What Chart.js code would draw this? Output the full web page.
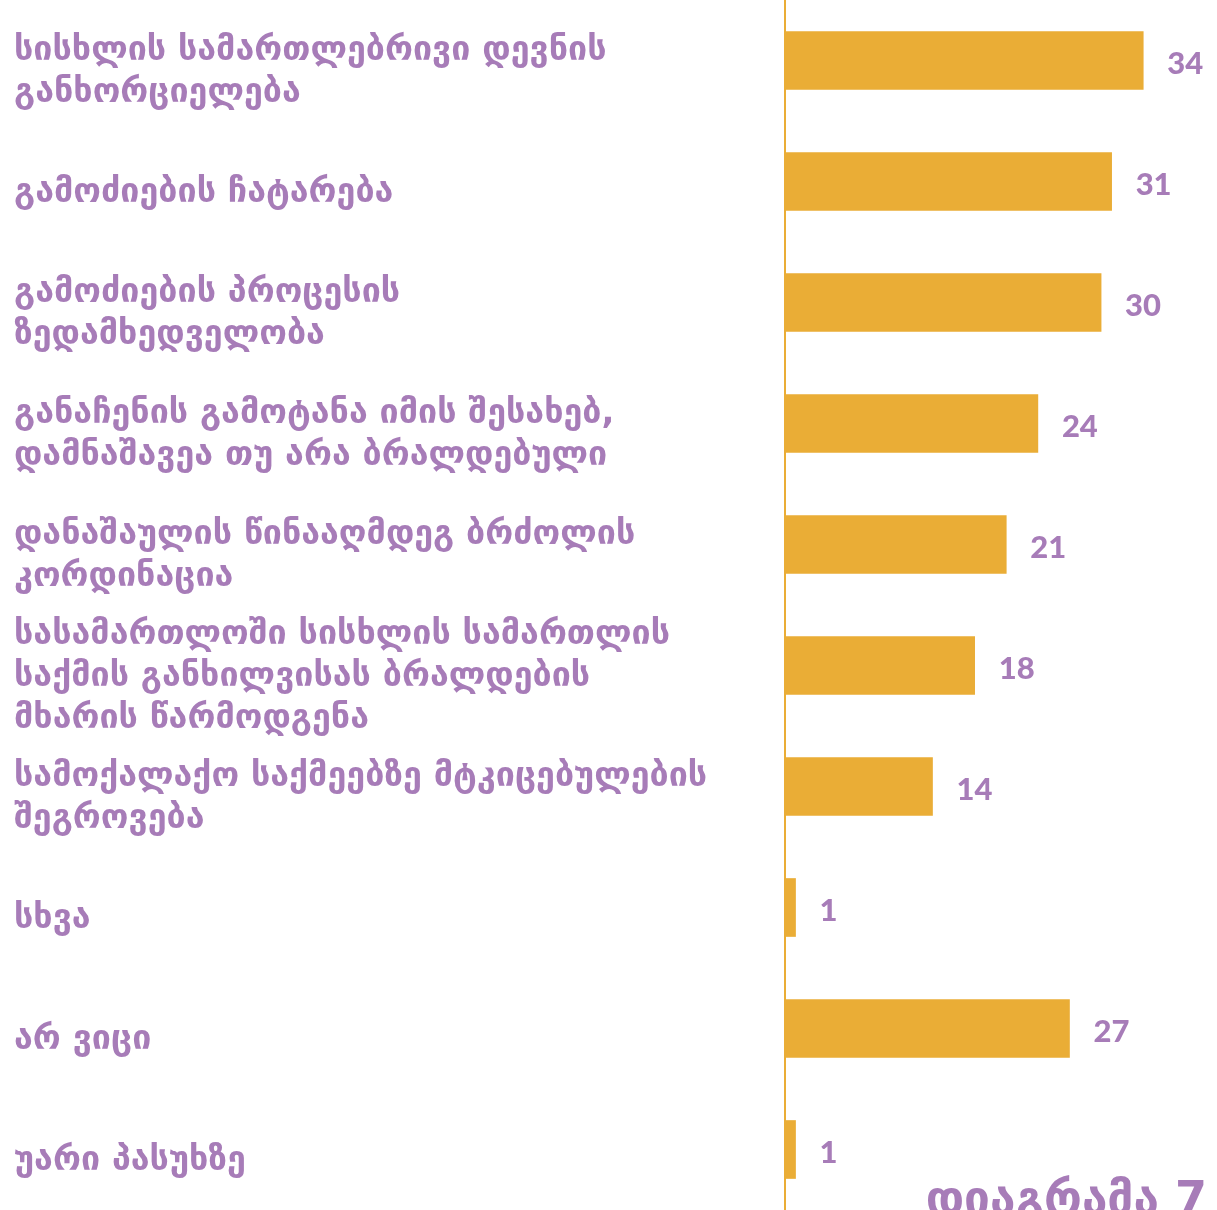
<!DOCTYPE html>
<html lang="ka">
<head>
<meta charset="utf-8">
<title>დიაგრამა 7</title>
<script src="https://cdn.jsdelivr.net/npm/chart.js@4/dist/chart.umd.min.js"></script>
<style>
  html, body { margin: 0; padding: 0; background: #fff; }
  #wrap { width: 1217px; height: 1210px; position: relative; }
</style>
</head>
<body>
<div id="wrap"><canvas id="chart"></canvas></div>
<script>
/* Horizontal bar chart, diagram 7 */

const categories = [
  ["სისხლის სამართლებრივი დევნის", "განხორციელება"],
  "გამოძიების ჩატარება",
  ["გამოძიების პროცესის", "ზედამხედველობა"],
  ["განაჩენის გამოტანა იმის შესახებ,", "დამნაშავეა თუ არა ბრალდებული"],
  ["დანაშაულის წინააღმდეგ ბრძოლის", "კორდინაცია"],
  ["სასამართლოში სისხლის სამართლის", "საქმის განხილვისას ბრალდების", "მხარის წარმოდგენა"],
  ["სამოქალაქო საქმეებზე მტკიცებულების", "შეგროვება"],
  "სხვა",
  "არ ვიცი",
  "უარი პასუხზე",
];
const values = [34, 31, 30, 24, 21, 18, 14, 1, 27, 1];
const chartTitle = "დიაგრამა 7";

const PURPLE = "#a77cb8";
const GOLD = "#eaad36";
const LABEL_FONT = "'DejaVu Sans', 'Noto Sans', sans-serif";
const NUM_FONT = "Lato, 'Open Sans', sans-serif";

const valueLabels = {
  id: "valueLabels",
  afterDatasetsDraw(chart) {
    const ctx = chart.ctx;
    const meta = chart.getDatasetMeta(0);
    ctx.save();
    ctx.fillStyle = PURPLE;
    ctx.font = `900 31px ${NUM_FONT}`;
    ctx.textAlign = "left";
    ctx.textBaseline = "middle";
    meta.data.forEach((bar, i) => {
      ctx.fillText(String(values[i]), bar.x + 24, bar.y + 3);
    });
    ctx.restore();
  },
};

const cornerTitle = {
  id: "cornerTitle",
  afterDraw(chart) {
    const ctx = chart.ctx;
    ctx.save();
    ctx.fillStyle = PURPLE;
    ctx.font = `bold 46px ${LABEL_FONT}`;
    ctx.textAlign = "right";
    ctx.textBaseline = "alphabetic";
    ctx.fillText(chartTitle, 1207, 1214);
    ctx.restore();
  },
};

new Chart(document.getElementById("chart"), {
  type: "bar",
  data: {
    labels: categories,
    datasets: [
      {
        data: values,
        backgroundColor: GOLD,
        borderWidth: 0,
        barThickness: 58,
      },
    ],
  },
  options: {
    indexAxis: "y",
    responsive: true,
    maintainAspectRatio: false,
    animation: false,
    layout: { padding: { left: 14, right: 0, top: 0, bottom: 0 } },
    plugins: {
      legend: { display: false },
      tooltip: { enabled: false },
    },
    scales: {
      x: {
        display: false,
        min: 0,
        max: 41,
      },
      y: {
        grid: { display: false, drawTicks: false },
        border: { display: true, color: GOLD, width: 2 },
        afterFit(scale) {
          scale.width = 771;
          scale.paddingTop = 0;
          scale.paddingBottom = 0;
        },
        ticks: {
          color: PURPLE,
          crossAlign: "far",
          padding: 10,
          labelOffset: 12,
          autoSkip: false,
          font: { family: LABEL_FONT, size: 34, weight: "bold", lineHeight: 1.24 },
        },
      },
    },
  },
  plugins: [valueLabels, cornerTitle],
});
</script>
</body>
</html>
